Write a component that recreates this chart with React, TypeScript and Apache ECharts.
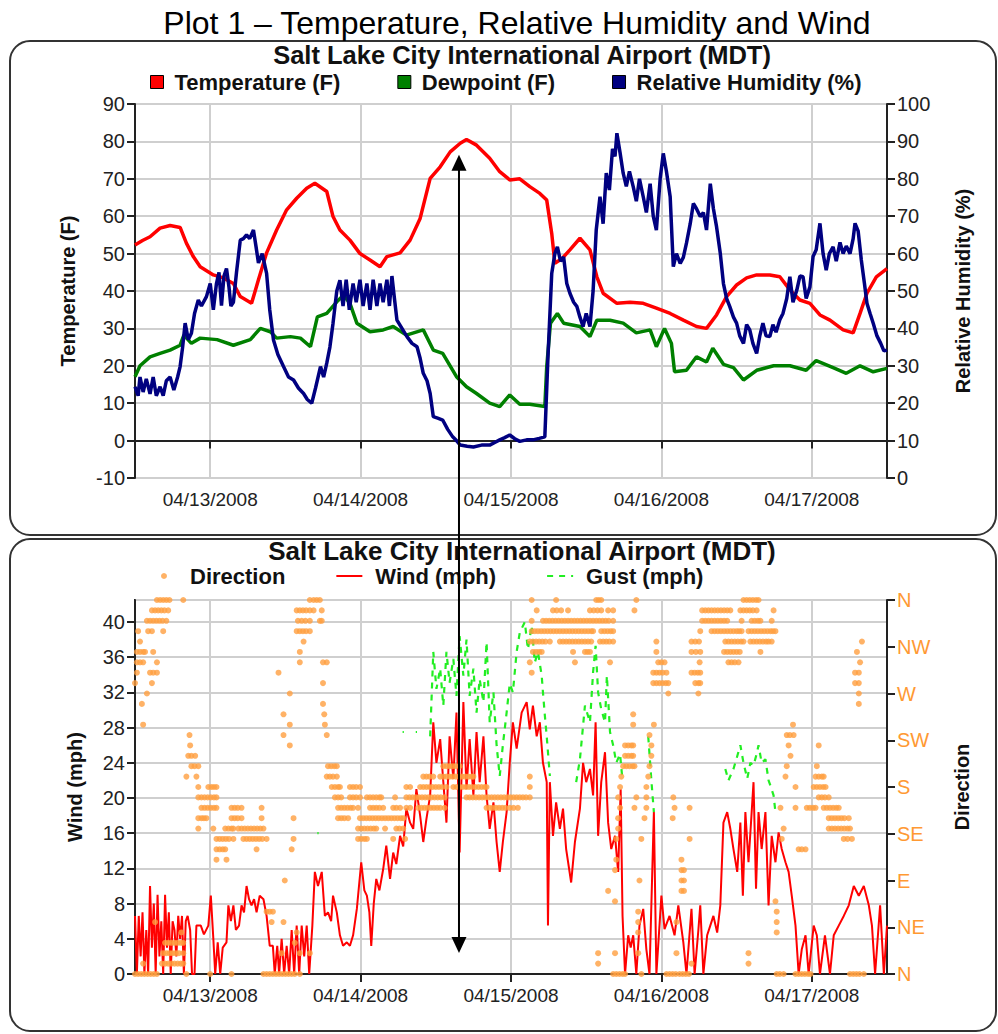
import React, { useEffect, useRef } from 'react';
import * as echarts from 'echarts';

const FONT = "'Liberation Sans', Arial, Helvetica, sans-serif";

// x values are hours since 04/12/2008 12:00 MDT
const dayTicks = [12, 36, 60, 84, 108];
const dayLabels = ['04/13/2008', '04/14/2008', '04/15/2008', '04/16/2008', '04/17/2008'];
const tempTicks = [-10, 0, 10, 20, 30, 40, 50, 60, 70, 80, 90];
const dirLabels = ['N', 'NE', 'E', 'SE', 'S', 'SW', 'W', 'NW', 'N'];

const tempHours = [0, 1.2, 2.4, 4, 5.6, 7.2, 8.2, 9.3, 10.4, 12.5, 14.1, 15.7, 16.8, 18.6, 19.7, 21, 22.6, 24.2, 25.8, 27.4, 28.7, 30.6, 31.6, 32.7, 34.3, 35.9, 37.5, 39.1, 40.2, 42.3, 43.9, 45.5, 47.1, 48.7, 50.3, 51.9, 52.9, 54.5, 56.6, 58.2, 59.8, 61.4, 63, 64.6, 65.7, 66.5, 67, 68.1, 69.4, 71, 72.6, 73.7, 74.7, 76.9, 79, 81.1, 83.2, 85.4, 87.5, 89.6, 91.2, 92.8, 94.4, 96, 97.6, 99.2, 101.3, 102.9, 104.5, 106.1, 107.7, 109.3, 110.9, 113, 114.6, 115.7, 116.8, 118.3, 120];
const tempF = [52.3, 53.5, 54.5, 56.8, 57.5, 57, 52.8, 49.2, 46.5, 44.3, 43.5, 42, 38.5, 36.7, 43, 50.2, 56.3, 61.7, 64.8, 67.5, 68.8, 66.6, 59.9, 56.3, 53.6, 50, 48.3, 46.5, 49.2, 50.2, 53.6, 59.4, 70.1, 73.2, 77.2, 79.5, 80.5, 79, 75.5, 71.9, 69.7, 70, 67.9, 66.1, 64.3, 55.4, 47.4, 48.6, 51, 54.1, 51, 43.8, 39.4, 36.7, 37, 36.7, 35.4, 34, 32.2, 30.5, 30, 33.6, 38.5, 41.6, 43.5, 44.3, 44.3, 43.8, 40.3, 37.6, 36.7, 33.6, 32.2, 29.6, 28.8, 34, 39.4, 43.8, 46];

const dewHours = [0, 0.8, 2.4, 4, 5.6, 7.2, 7.8, 9, 10.4, 13.1, 15.7, 18.4, 20, 21.6, 22.6, 24.8, 26.4, 28, 29.1, 30.6, 32.2, 33.3, 34.3, 35.4, 37.5, 39.6, 41.2, 43.3, 46, 47.6, 49.1, 51.3, 52.9, 54.5, 56.6, 58.2, 59.8, 61.4, 63, 65.4, 65.7, 66.3, 67.4, 68.4, 71, 72.6, 73.7, 75.8, 77.9, 80, 82.2, 83.2, 84.5, 85.6, 86.1, 88, 89.6, 91.2, 92.2, 93.9, 95.5, 97.1, 99.2, 101.9, 104.5, 107.1, 108.7, 111.4, 113.5, 115.7, 117.8, 120];
const dewF = [17.1, 20, 22.4, 23.3, 24.2, 25.5, 28.2, 26, 27.4, 27, 25.5, 27, 30, 29.1, 27.4, 27.8, 27.4, 25.1, 33.1, 34, 37.1, 38.9, 36.7, 31.4, 29.1, 29.6, 30.5, 28.2, 29.6, 24.2, 23.3, 17.1, 14.4, 12.6, 10, 9.1, 12.2, 9.7, 9.7, 9.1, 19.8, 31.4, 34, 31.4, 30.5, 27.8, 32.2, 32.2, 31.4, 28.8, 29.6, 25.1, 30, 26, 18.4, 18.8, 22.4, 21, 24.7, 20.4, 19.5, 16.2, 18.8, 20, 20, 18.8, 21.4, 19.5, 18, 20, 18.4, 19.3];

const rhPoints: [number, number][] = [
  [0, 24.4], [0.5, 22], [0.8, 27], [1.3, 23], [1.8, 26.5], [2.4, 22.5], [2.9, 27], [3.4, 22], [4, 24.4], [4.5, 22], [5, 26], [5.6, 27], [6.2, 23.5], [6.8, 27], [7.2, 29.8], [7.6, 35], [8, 41.4], [8.5, 37], [9, 38.7], [9.5, 44], [10.1, 47.6], [10.6, 46], [11.4, 48.5], [12, 52], [12.5, 45], [13, 52], [13.4, 55], [13.8, 46.1], [14.2, 54], [14.6, 56], [15, 51], [15.3, 46], [15.7, 47], [16.2, 55], [16.8, 63.6], [17.3, 64], [17.8, 65], [18.3, 64], [18.9, 66.3], [19.3, 62], [19.7, 57.5], [20.3, 60], [21, 54.7], [21.5, 45], [22.1, 36.9], [22.8, 33], [23.7, 29.8], [24.5, 27], [25.3, 26.2], [26.1, 24], [26.9, 22.6], [27.5, 21], [28.2, 20], [28.8, 24], [29.6, 29.8], [30.1, 27], [30.6, 30.7], [31.1, 35], [31.6, 41.4], [32.2, 50], [32.7, 52.9], [33.2, 46], [33.7, 53], [34.2, 45], [34.8, 52], [35.3, 47], [35.9, 53], [36.4, 46], [37, 52], [37.5, 45], [38, 53], [38.6, 46], [39.1, 52], [39.6, 47], [40.2, 53], [40.6, 46], [41, 54], [41.4, 48], [41.8, 42.2], [42.6, 40], [43.4, 37.8], [44.2, 36], [45, 35.1], [45.5, 32], [46, 28], [46.6, 26], [47.1, 22.6], [47.6, 16.4], [48.3, 16], [49.1, 15.5], [49.9, 13], [50.7, 11], [51.3, 10], [51.9, 8.8], [53, 8.5], [54, 8.3], [55.3, 8.8], [56.6, 8.8], [57.4, 9.5], [58.2, 10.2], [59, 10.8], [59.8, 11.5], [60.6, 10.5], [61.4, 9.8], [62.5, 10.2], [63.5, 10.2], [64.5, 10.6], [65.4, 11], [65.9, 32.4], [66.5, 54.7], [67, 60], [67.4, 61.8], [67.9, 58], [68.4, 59.1], [68.9, 52], [69.4, 49.4], [70, 47], [70.5, 45.9], [71, 43], [71.5, 40.5], [72, 44], [72.6, 40.5], [73.1, 50], [73.6, 66.3], [74.2, 75.2], [74.7, 68], [75.2, 81.5], [75.7, 77], [76.2, 88], [76.6, 86], [76.9, 92.2], [77.4, 87], [77.9, 81.5], [78.4, 78], [78.9, 82], [79.5, 77.9], [80, 74], [80.5, 80], [81.1, 75.2], [81.6, 71], [82.2, 78.7], [82.7, 70], [83.2, 66.3], [83.8, 80], [84.3, 86.8], [84.8, 82], [85.4, 75.2], [85.9, 56.5], [86.4, 60], [87, 57.4], [87.5, 59], [88, 62.8], [88.6, 68], [89.1, 73.4], [89.6, 72], [90.2, 69.9], [90.7, 71], [91.2, 66.3], [91.8, 78.7], [92.3, 72], [92.8, 67.2], [93.4, 60], [93.9, 52], [94.4, 48], [94.9, 45.9], [95.5, 43], [96, 41.4], [96.5, 38], [97.1, 36], [97.6, 41], [98.1, 39.6], [98.6, 36], [99.2, 33.3], [99.7, 38], [100.2, 41.4], [100.7, 38], [101.3, 37.8], [101.8, 41], [102.3, 39], [102.9, 42.3], [103.4, 44], [104, 48], [104.5, 53.8], [105, 47], [105.6, 50.2], [106.1, 54], [106.6, 53.8], [107.1, 48], [107.7, 51.1], [108.2, 59.2], [108.7, 61], [109.3, 68.1], [109.8, 60], [110.3, 55.6], [110.8, 60], [111.4, 61.8], [111.9, 58], [112.5, 63], [113, 60], [113.5, 62], [114.1, 60], [114.6, 64], [114.9, 68.1], [115.4, 66], [115.9, 58.3], [116.4, 52], [116.8, 46.7], [117.3, 44], [117.8, 41.4], [118.4, 38], [119, 36], [119.5, 34], [120, 34.2]
];

const windPoints: [number, number][] = [
  [0, 6.6], [0.3, 0], [0.6, 6.6], [0.9, 2], [1.2, 7], [1.5, 0], [1.8, 5], [2.1, 0], [2.4, 10], [2.7, 3], [3, 8], [3.3, 0], [3.6, 9], [3.9, 2], [4.2, 6], [4.5, 0], [4.8, 9], [5.1, 3], [5.4, 7], [5.7, 0], [6, 6], [6.3, 5], [6.6, 2], [6.9, 6.6], [7.2, 4], [7.5, 6.6], [7.8, 0], [8.1, 6], [8.4, 6.6], [8.8, 5], [9.1, 0], [9.5, 0], [9.8, 5.5], [10.5, 5.5], [11, 4.5], [11.7, 5.5], [12.1, 8.9], [12.5, 4], [12.8, 0], [13.2, 3.6], [13.6, 0], [14, 3], [14.6, 3.6], [14.9, 7.8], [15.3, 6], [15.7, 7.8], [16.1, 5], [16.6, 5.5], [17, 7.8], [17.4, 7], [17.8, 10], [18.2, 8.5], [18.6, 7.8], [19, 8.5], [19.4, 7], [19.9, 8.9], [20.5, 8.5], [21, 6.6], [21.5, 3.2], [22, 3.2], [22.3, 0], [22.7, 3.2], [23, 0], [23.4, 4], [23.8, 0], [24.2, 3.2], [24.6, 0], [25, 5], [25.4, 0], [25.8, 5.5], [26.2, 0], [26.6, 5.5], [27, 2], [27.4, 5.5], [27.8, 0], [28.3, 5.5], [28.7, 11.6], [29.2, 10], [29.8, 11.6], [30.3, 6.6], [30.8, 7], [31.3, 6], [31.6, 8.9], [32.2, 7], [32.7, 4.4], [33.2, 3.2], [33.8, 3.6], [34.3, 3.2], [34.8, 4.4], [35.4, 7.4], [36.1, 12.7], [36.6, 9.5], [37, 8.9], [37.4, 7], [37.7, 3.2], [38.1, 8], [38.5, 10.8], [39, 9.5], [39.6, 11.9], [40.1, 14.6], [40.7, 10.8], [41.2, 13.8], [41.7, 12.5], [42.3, 15.7], [42.8, 14.5], [43.3, 18.8], [43.9, 17.2], [44.4, 16.5], [44.9, 21], [45.5, 18], [46, 15], [46.5, 17.6], [47.1, 20.3], [47.6, 28.6], [48.1, 24], [48.7, 26.7], [49.2, 21.8], [49.7, 17.2], [50.2, 27], [50.8, 22.2], [51.3, 29.7], [51.8, 13.8], [52.4, 30.9], [52.9, 21], [53.4, 26.7], [54, 20.3], [54.5, 27.5], [55, 21.8], [55.6, 27], [56.1, 20.3], [56.6, 16.5], [57.2, 19.5], [57.7, 15], [58.2, 11.6], [58.7, 15], [59.3, 18.4], [59.8, 24], [60.3, 28.6], [60.9, 25.6], [61.7, 29.7], [62.5, 30.9], [63, 27.8], [63.5, 30.5], [64.1, 27], [64.6, 28.6], [65.1, 24], [65.7, 21.8], [65.9, 5.5], [66.2, 21.8], [66.7, 15.7], [67.2, 19.5], [67.8, 16.5], [68.3, 18.8], [68.8, 14.2], [69.6, 10.4], [70.2, 15], [71, 18.8], [71.5, 24], [72, 21.8], [72.6, 23.3], [73.1, 20.3], [73.5, 28.6], [73.9, 15.7], [74.4, 21.8], [75, 25.2], [75.5, 17.2], [76, 14.2], [76.6, 15.7], [77.1, 11.6], [77.5, 21], [77.8, 6.6], [78.2, 0], [78.7, 4.4], [79.1, 3], [79.5, 4.4], [80, 0], [80.5, 5.5], [81.1, 7.4], [81.6, 2.8], [82.1, 0], [82.8, 18.4], [83.2, 0], [84, 8.9], [84.5, 5.1], [85.3, 6.6], [86.1, 4.4], [86.7, 7.8], [87.5, 3.6], [88, 0], [88.8, 7.4], [89.3, 0], [89.9, 5], [90.2, 7.8], [90.7, 0], [91.3, 4.4], [91.8, 5.5], [92.3, 6.6], [92.9, 4.7], [93.4, 7.8], [93.9, 17.2], [94.5, 18.4], [95, 16.5], [95.5, 14.2], [96.1, 11.6], [96.6, 17.2], [97, 8.9], [97.4, 18.4], [97.9, 12.7], [98.3, 17.2], [98.7, 21.8], [99.1, 9.7], [99.5, 18.4], [100, 14.2], [100.6, 18.4], [101.1, 7.8], [101.6, 15.7], [102.2, 12.7], [102.7, 16.1], [103.2, 14.2], [103.8, 12.7], [104.3, 11.6], [104.8, 8.9], [105.4, 5.5], [105.9, 0], [106.4, 2.8], [107, 4.4], [107.5, 0], [108.3, 5.5], [108.8, 4.4], [109.3, 0], [110.1, 4.4], [110.9, 0], [111.5, 4.4], [112.3, 5.5], [113.1, 6.6], [113.9, 7.8], [114.7, 10], [115.5, 8.9], [116.3, 10], [117.1, 7.8], [117.6, 5.5], [118.1, 0], [118.9, 7.8], [119.5, 0], [120, 5.5]
];

const gustPoints: [number, number | null][] = [
  [29.1, 16], [29.3, 16], [29.4, null],
  [42.7, 27.5], [42.9, 27.5], [43.5, null], [44.8, 27.5], [45, 27.5], [45.5, null],
  [47.1, 27], [47.6, 36.6], [48.1, 32.4], [48.7, 34.7], [49.2, 30.5], [49.7, 36.6], [50.2, 33.1], [50.8, 35.8], [51.3, 31.6], [51.8, 38.4], [52.4, 33.9], [52.9, 38], [53.4, 31.6], [54, 34.7], [54.5, 29.7], [55, 33.5], [55.6, 30.9], [56.1, 37.7], [56.6, 28.6], [57.2, 32], [57.7, 26], [58.2, 22.5], [58.7, 26], [59.3, 29.7], [59.8, 33], [60.3, 32], [60.9, 36.6], [61.4, 38.8], [62.2, 40], [62.7, 36.9], [63.3, 39.6], [63.8, 35.4], [64.3, 36.6], [64.9, 33.9], [65.1, 32], [65.4, 29.4], [65.7, 27], [66.2, 22.5], [66.5, null],
  [70.4, 21.8], [71, 24.4], [71.8, 30.5], [72.6, 28.6], [73.1, 34.3], [73.5, 37.3], [73.9, 32], [74.4, 30.1], [75, 28.6], [75.3, 33.9], [75.8, 27.5], [76.3, 26], [76.8, 24], [77.4, 25], [77.8, 22], [78, null],
  [81.9, 27], [82.4, 22], [82.8, 18.4], [83, null],
  [94.2, 23.3], [94.7, 22], [95.5, 23.3], [96, 24.5], [96.6, 26], [97.1, 24], [97.7, 22.2], [98.2, 24], [98.7, 23.7], [99.2, 25], [99.5, 26], [100, 24], [100.6, 24.4], [101.1, 22], [101.4, 21.4], [101.9, 20.3], [102.2, 18.4]
];

// wind direction observations: [degrees, hours observed]
const directionObs: [number, number[]][] = [
  [360, [3.5, 4, 4.5, 5, 5.5, 7.7, 27.9, 28.5, 29, 29.5, 63.3, 67.2, 73.6, 74, 74.4, 80, 97.1, 97.6, 98.1, 98.6, 99.1, 99.5]],
  [350, [2.7, 3.2, 3.7, 4.2, 4.7, 5.3, 25.8, 26.3, 26.8, 27.3, 27.9, 28.5, 29.8, 64.1, 66.7, 67.3, 68, 69.1, 72.6, 73.2, 73.8, 74.4, 75.5, 76.3, 79.7, 90.5, 91, 91.5, 92, 92.5, 93, 93.5, 94, 94.5, 95, 96.6, 97.1, 97.6, 98.1, 98.6, 99.2, 101.9]],
  [340, [1.9, 2.4, 2.9, 3.4, 3.9, 4.4, 5, 26, 26.6, 27.2, 27.9, 29.5, 29.8, 63.3, 65.1, 65.6, 66.1, 66.6, 67.1, 67.6, 68.1, 68.6, 69.1, 69.6, 70.1, 70.6, 71.1, 71.6, 72.1, 72.6, 73.1, 73.6, 74.1, 74.6, 75.1, 75.6, 76.3, 90.5, 91, 91.5, 92, 92.5, 93, 93.5, 94, 94.5, 96.8, 98.4, 98.9, 99.4, 99.8, 101.6]],
  [330, [0.5, 2.1, 2.7, 4.5, 25.8, 26.3, 26.8, 27.3, 27.9, 63.3, 63.8, 64.3, 64.8, 65.3, 65.8, 66.3, 66.8, 67.3, 67.8, 68.3, 68.8, 69.3, 69.8, 70.3, 70.8, 71.3, 71.8, 72.3, 72.8, 73.1, 74.4, 74.9, 75.4, 75.9, 76.3, 90.2, 92, 92.5, 93, 93.5, 94, 94.5, 95, 95.5, 96, 96.4, 96.8, 97.9, 98.4, 98.9, 99.4, 99.9, 100.4, 100.9, 101.4, 101.8, 102.2]],
  [320, [0.8, 26.9, 63, 63.5, 64, 64.5, 65, 65.5, 66.2, 67.8, 68.3, 68.8, 69.3, 69.8, 70.3, 70.8, 71.3, 71.8, 72.3, 72.8, 74.2, 74.7, 75.2, 75.7, 76.3, 83.2, 88.8, 89.4, 90, 94.2, 94.7, 95.2, 95.7, 96.2, 96.7, 97.1, 98.2, 98.7, 99.2, 99.7, 100.2, 100.7, 101.1, 101.6, 116]],
  [310, [0.3, 0.8, 1.3, 1.6, 2.9, 26.3, 63.5, 64, 64.5, 64.9, 69.9, 71.8, 72.2, 72.6, 83.2, 88.8, 89.5, 90.2, 94, 94.5, 95, 95.5, 96, 96.5, 99.8, 115.2]],
  [300, [0.3, 0.8, 1.3, 3.5, 26.3, 30, 30.6, 63, 70.2, 75.8, 83.5, 84, 84.5, 90.1, 94.7, 95.2, 95.7, 96.3, 115.7]],
  [290, [0.3, 2.4, 2.9, 3.5, 22.9, 63.3, 82.7, 83.2, 83.7, 84.2, 84.8, 88.8, 89.3, 89.8, 90.2, 114.9, 115.5]],
  [280, [0, 2.7, 30, 82.7, 83.2, 83.7, 84.2, 84.7, 85.1, 89.4, 89.9, 90.2, 114.9, 115.5]],
  [270, [1.9, 24.7, 85.1, 89.9, 115.5]],
  [260, [1.1, 30, 115.5]],
  [250, [23.7, 30.2, 79.5]],
  [240, [1.3, 24.7, 30.3, 79.5, 82.8, 105]],
  [230, [8.7, 23.7, 30.6, 82.1, 104, 104.5, 105.1]],
  [220, [8.8, 24.7, 78.2, 78.7, 79.2, 79.5, 82.4, 104.3, 109.1]],
  [210, [8.5, 9, 9.6, 78.2, 78.7, 79.2, 79.5, 82.4, 104.6]],
  [200, [9, 9.5, 10.1, 30.8, 31.3, 31.8, 32.2, 49.2, 49.7, 50.2, 50.7, 51.2, 51.8, 77.9, 78.4, 78.9, 79.4, 79.7, 82.1, 104, 108.8]],
  [190, [8.2, 9.8, 30.6, 31.1, 31.6, 32.2, 46, 46.5, 47, 47.6, 48.7, 49.2, 49.7, 50.2, 50.7, 51.2, 51.7, 52.2, 52.7, 53.2, 53.7, 54, 63, 77.6, 81.9, 103.8, 108.6, 109.1, 109.6, 109.9]],
  [180, [10.1, 11.7, 12.2, 12.6, 13, 31.4, 31.9, 32.4, 32.7, 34.3, 34.8, 35.3, 35.9, 43.3, 43.9, 45.5, 46, 46.5, 47, 47.5, 48, 48.5, 49, 49.7, 50.8, 51.3, 51.8, 52.3, 52.8, 53.3, 53.8, 54.3, 54.8, 55.3, 55.8, 56.1, 63, 77.4, 81.6, 105.4, 108.3, 108.8, 109.3, 109.8, 110.2]],
  [170, [10.1, 10.6, 11.1, 11.6, 12.1, 12.6, 13, 31.9, 32.4, 32.9, 34.3, 34.8, 35.3, 35.9, 37, 37.5, 38, 38.5, 39, 39.3, 41.5, 43.3, 43.8, 44.3, 44.8, 45.3, 45.8, 46.3, 46.8, 47.3, 47.8, 48.3, 48.8, 49.4, 52.9, 53.4, 53.9, 54.4, 54.9, 55.4, 55.9, 56.4, 56.9, 57.4, 57.9, 58.4, 58.9, 59.4, 59.9, 60.4, 60.9, 61.4, 61.9, 62.4, 63, 77.1, 80, 81.6, 85.9, 109.1, 109.6, 110.1, 110.7]],
  [160, [10.6, 11.1, 11.6, 12.1, 12.6, 13, 15.4, 15.9, 16.4, 17, 20.2, 32.4, 32.9, 33.4, 33.9, 34.4, 34.8, 35.6, 37.5, 38, 38.5, 39, 39.6, 41.2, 41.7, 42.3, 43.3, 43.9, 45.2, 45.7, 46.2, 46.7, 47.2, 47.7, 48.2, 48.7, 49.4, 56.1, 56.6, 57.1, 57.6, 58.1, 58.6, 59.1, 59.8, 60.4, 61.1, 77.4, 79.7, 81.6, 86.1, 88.5, 103, 105.4, 107.2, 107.7, 108.2, 108.6, 109.9, 110.4, 110.9, 111.4, 111.9, 112.3]],
  [150, [10.1, 10.6, 11, 11.4, 15.4, 15.9, 16.4, 17, 20.2, 25.3, 32.4, 32.9, 33.4, 34, 35.9, 36.4, 36.9, 37.4, 37.9, 38.4, 38.9, 39.4, 39.9, 40.4, 40.9, 41.4, 41.9, 42.4, 42.8, 77.1, 81.3, 85.8, 110.7, 111.2, 111.7, 112.2, 112.7, 113.2, 113.9]],
  [140, [10.1, 12.5, 14.4, 14.9, 15.4, 15.7, 16.5, 17, 17.5, 18, 18.5, 19, 19.5, 20, 20.5, 35.6, 36.1, 36.6, 37.1, 37.6, 38.1, 38.5, 39.9, 41.7, 42.2, 42.8, 77.1, 103.5, 110.7, 111.2, 111.7, 112.2, 112.7, 113.2, 113.7, 114.1]],
  [130, [13, 13.5, 14, 14.5, 15, 15.7, 17.3, 17.8, 18.3, 18.8, 19.3, 19.8, 20.3, 21, 25.3, 35.6, 36.1, 36.6, 37, 41.2, 43.1, 76.8, 80.8, 88.5, 103.2, 113.1, 113.7, 114.4]],
  [120, [13, 13.5, 14, 14.4, 19.4, 25, 105.9, 106.4, 107]],
  [110, [13, 14.6, 76.8, 87.2]],
  [100, [76.6, 87.2, 87.6]],
  [90, [23.9, 80.5, 87.2, 87.6]],
  [80, [75.5, 87.2, 87.6]],
  [70, [76.6, 102.2]],
  [60, [21, 21.5, 22, 80.3, 102.4]],
  [50, [3.2, 21.8, 23.7, 80.3, 86.4, 102.4]],
  [40, [7.4, 25.8, 80.3, 102.4]],
  [30, [4.8, 5.3, 5.8, 6.3, 6.8, 7.3, 7.7, 25.5]],
  [20, [4.5, 5, 5.5, 6, 6.5, 7, 7.7, 23.4, 26.3, 27.9, 73.9, 76.6, 80.3, 86.4, 97.9]],
  [10, [1.3, 4.3, 4.8, 5.3, 5.8, 6.3, 6.8, 7.3, 7.7, 73.9, 88.8, 97.9]],
  [0, [0, 0.5, 1, 1.5, 2, 2.5, 3, 3.5, 8.2, 12, 15.4, 20.5, 21, 21.5, 22, 22.5, 23, 23.5, 24, 24.5, 25, 25.5, 26.3, 76.3, 76.8, 77.3, 77.8, 78.2, 80.8, 84.8, 85.3, 85.8, 86.3, 86.9, 87.4, 87.9, 88.4, 102.4, 102.9, 103.5, 105.4, 105.9, 106.4, 106.9, 107.4, 107.8, 114.1, 114.6, 115.1, 115.6, 116.3]]
];

// annotation arrow: time of the peak and its ends in data units
const arrowHour = 51.7;
const arrowTopTemp = 76.4;
const arrowBottomWind = 2.4;

export default function App() {
  const ref = useRef<HTMLDivElement>(null);
  useEffect(() => {
    document.body.style.margin = '0';
    const chart = echarts.init(ref.current!, undefined, { renderer: 'svg' });
    const tempData = tempHours.map((h, i) => [h, tempF[i]]);
    const dewData = dewHours.map((h, i) => [h, dewF[i]]);
    const dirData: number[][] = [];
    directionObs.forEach(([deg, hours]) => hours.forEach((h) => dirData.push([h, deg])));

    const axisLabelBase = { fontFamily: FONT, fontSize: 20, color: '#222' };
    const nameStyle = { fontFamily: FONT, fontSize: 20, fontWeight: 'bold' as const, color: '#111' };
    const splitLine = { show: true, lineStyle: { color: '#cfcfcf', width: 2 } };
    const axisLine = { show: true, lineStyle: { color: '#222', width: 2 } };
    const axisTick = { show: true, length: 8, lineStyle: { color: '#222', width: 2 } };
    const legendText = { fontFamily: FONT, fontSize: 22, fontWeight: 'bold' as const, color: '#111' };

    const xAxisFor = (gridIndex: number) => ({
      type: 'value', gridIndex, min: 0, max: 120,
      axisLine, splitLine,
      axisTick: { ...axisTick, customValues: dayTicks },
      axisLabel: {
        ...axisLabelBase, fontSize: 19, margin: 12, customValues: dayTicks,
        formatter: (v: number) => dayLabels[dayTicks.indexOf(v)] ?? '',
      },
    });

    chart.setOption({
      animation: false,
      backgroundColor: '#fff',
      textStyle: { fontFamily: FONT },
      title: [
        { text: 'Plot 1 – Temperature, Relative Humidity and Wind', left: 512, top: 2, textAlign: 'center', textStyle: { fontFamily: FONT, fontSize: 32, fontWeight: 'normal', color: '#000' } },
        { text: 'Salt Lake City International Airport (MDT)', left: 517, top: 38, textAlign: 'center', textStyle: { fontFamily: FONT, fontSize: 25.5, fontWeight: 'bold', color: '#111', lineHeight: 24 } },
        { text: 'Salt Lake City International Airport (MDT)', left: 517, top: 534, textAlign: 'center', textStyle: { fontFamily: FONT, fontSize: 26, fontWeight: 'bold', color: '#111', lineHeight: 24 } },
      ],
      legend: [
        {
          top: 66, left: 145, itemWidth: 13, itemHeight: 13, itemGap: 57, icon: 'rect',
          data: ['Temperature (F)', 'Dewpoint (F)', 'Relative Humidity (%)'],
          itemStyle: { borderColor: '#000', borderWidth: 1 },
          textStyle: { ...legendText, padding: [0, 0, 0, 6], lineHeight: 20 },
        },
        {
          top: 560, left: 156, itemWidth: 26, itemHeight: 6, itemGap: 50,
          data: [
            { name: 'Direction', icon: 'circle' },
            { name: 'Wind (mph)', itemStyle: { opacity: 0 } },
            { name: 'Gust (mph)', itemStyle: { opacity: 0 } },
          ],
          textStyle: { ...legendText, padding: [0, 0, 0, 8], lineHeight: 20 },
        },
      ],
      grid: [
        { left: 135, top: 104, width: 752, height: 374, show: true, borderColor: '#222', borderWidth: 2, backgroundColor: 'transparent' },
        { left: 135, top: 600, width: 752, height: 374, show: true, borderColor: '#222', borderWidth: 2, backgroundColor: 'transparent' },
      ],
      xAxis: [xAxisFor(0), xAxisFor(1)],
      yAxis: [
        {
          type: 'value', gridIndex: 0, min: tempTicks[0], max: tempTicks[tempTicks.length - 1], interval: 10,
          name: 'Temperature (F)', nameLocation: 'middle', nameGap: 57, nameTextStyle: nameStyle,
          axisLine, axisTick, splitLine, axisLabel: { ...axisLabelBase, margin: 10 },
        },
        {
          type: 'value', gridIndex: 0, min: 0, max: 100, interval: 10, position: 'right',
          name: 'Relative Humidity (%)', nameLocation: 'middle', nameGap: 66, nameTextStyle: nameStyle,
          axisLine, axisTick, splitLine: { show: false }, axisLabel: { ...axisLabelBase, margin: 10 },
        },
        {
          type: 'value', gridIndex: 1, min: 0, max: 42.5, interval: 4,
          name: 'Wind (mph)', nameLocation: 'middle', nameGap: 50, nameTextStyle: nameStyle,
          axisLine, axisTick, splitLine, axisLabel: { ...axisLabelBase, margin: 10, showMaxLabel: false },
        },
        {
          type: 'value', gridIndex: 1, min: 0, max: 360, interval: 45, position: 'right',
          name: 'Direction', nameLocation: 'middle', nameGap: 65, nameTextStyle: nameStyle,
          axisLine, axisTick, splitLine: { show: false },
          axisLabel: { ...axisLabelBase, color: '#FF9933', margin: 10, formatter: (v: number) => dirLabels[Math.round(v / 45)] ?? '' },
        },
      ],
      series: [
        { name: 'Temperature (F)', type: 'line', xAxisIndex: 0, yAxisIndex: 0, data: tempData, symbol: 'none', color: '#ff0000', lineStyle: { width: 3.5, color: '#ff0000' } },
        { name: 'Dewpoint (F)', type: 'line', xAxisIndex: 0, yAxisIndex: 0, data: dewData, symbol: 'none', color: '#008000', lineStyle: { width: 3.5, color: '#008000' } },
        { name: 'Relative Humidity (%)', type: 'line', xAxisIndex: 0, yAxisIndex: 1, data: rhPoints, symbol: 'none', color: '#000080', lineStyle: { width: 3.5, color: '#000080' } },
        { name: 'Wind (mph)', type: 'line', xAxisIndex: 1, yAxisIndex: 2, data: windPoints, symbol: 'none', color: '#ff0000', lineStyle: { width: 2, color: '#ff0000' }, z: 2 },
        { name: 'Gust (mph)', type: 'line', xAxisIndex: 1, yAxisIndex: 2, data: gustPoints, symbol: 'none', connectNulls: false, color: '#22ee22', lineStyle: { width: 2.2, color: '#22ee22', type: [6, 6] }, z: 3 },
        { name: 'Direction', type: 'scatter', xAxisIndex: 1, yAxisIndex: 3, data: dirData, symbol: 'circle', symbolSize: 6, color: '#FF9F40', itemStyle: { color: '#FF9F40' }, z: 4 },
      ],
      graphic: [
        { id: 'frame1', type: 'rect', shape: { x: 10, y: 41, width: 986, height: 494, r: 20 }, style: { fill: 'none', stroke: '#333', lineWidth: 2 }, silent: true },
        { id: 'frame2', type: 'rect', shape: { x: 10, y: 539, width: 986, height: 492, r: 20 }, style: { fill: 'none', stroke: '#333', lineWidth: 2 }, silent: true },
      ],
    });

    const ax = chart.convertToPixel({ xAxisIndex: 0 }, arrowHour) as number;
    const yTop = chart.convertToPixel({ yAxisIndex: 0 }, arrowTopTemp) as number;
    const yBot = chart.convertToPixel({ yAxisIndex: 2 }, arrowBottomWind) as number;
    chart.setOption({
      graphic: [
        { id: 'arrowLine', type: 'line', z: 100, shape: { x1: ax, y1: yTop + 10, x2: ax, y2: yBot - 10 }, style: { stroke: '#000', lineWidth: 2 }, silent: true },
        { id: 'arrowTop', type: 'polygon', z: 100, shape: { points: [[ax, yTop], [ax - 7.5, yTop + 16], [ax + 7.5, yTop + 16]] }, style: { fill: '#000' }, silent: true },
        { id: 'arrowBot', type: 'polygon', z: 100, shape: { points: [[ax, yBot], [ax - 7.5, yBot - 16], [ax + 7.5, yBot - 16]] }, style: { fill: '#000' }, silent: true },
      ],
    });

    return () => chart.dispose();
  }, []);
  return <div ref={ref} style={{ position: 'absolute', left: 0, top: 0, width: 998, height: 1034 }} />;
}
